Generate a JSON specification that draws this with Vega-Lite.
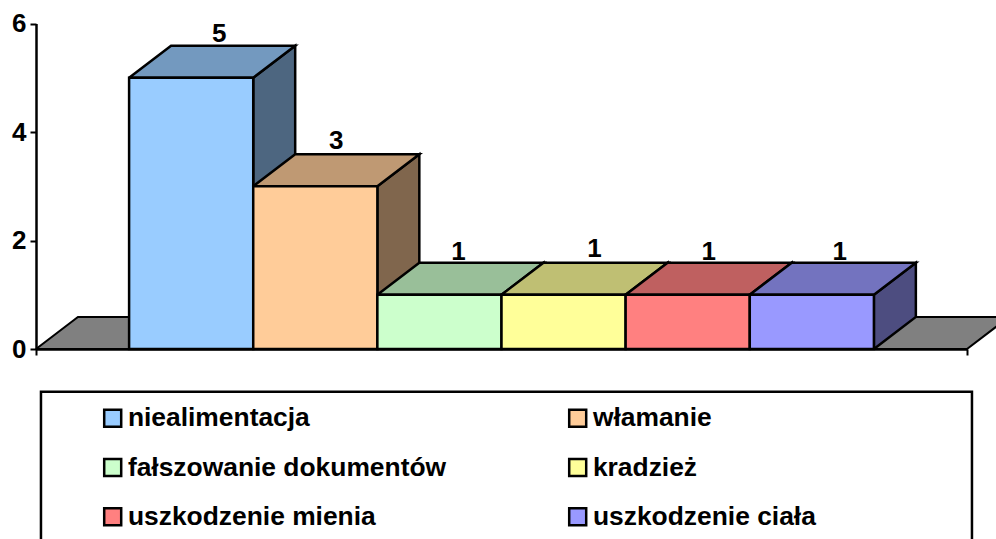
{
"$schema":"https://vega.github.io/schema/vega-lite/v6.json",
"width":996,"height":539,"padding":0,"autosize":{"type":"none"},"background":"white",
"config":{"view":{"stroke":null},"font":"Liberation Sans"},
"data":{"values":[
{"kategoria":"niealimentacja","liczba":5},
{"kategoria":"włamanie","liczba":3},
{"kategoria":"fałszowanie dokumentów","liczba":1},
{"kategoria":"kradzież","liczba":1},
{"kategoria":"uszkodzenie mienia","liczba":1},
{"kategoria":"uszkodzenie ciała","liczba":1}
]},
"transform":[
{"calculate":"indexof(['niealimentacja','włamanie','fałszowanie dokumentów','kradzież','uszkodzenie mienia','uszkodzenie ciała'],datum.kategoria)","as":"i"},
{"calculate":"datum.i+0.75","as":"x0"},
{"calculate":"datum.i+1.75","as":"x1"}
],
"layer":[
{"data":{"values":[{"xs":[0,0.338,7.838,7.5,0],"ys":[0,0.59,0.59,0,0],"k":[0,1,2,3,4]}]},
 "transform":[{"flatten":["xs","ys","k"]}],
 "mark":{"type":"line","filled":true,"fill":"#808080","stroke":"black","strokeWidth":2},
 "encoding":{
  "x":{"field":"xs","type":"quantitative","scale":{"domain":[0,7.5],"range":[36,967],"nice":false,"zero":false},
   "axis":{"title":null,"values":[0,7.5],"labels":false,"grid":false,"offset":-190,"tickSize":6,"tickWidth":2,"tickColor":"black","domainColor":"black","domainWidth":2.5}},
  "y":{"field":"ys","type":"quantitative","scale":{"domain":[0,6],"range":[349,23.5],"nice":false,"zero":false},
   "axis":{"title":null,"values":[0,2,4,6],"format":"d","grid":false,"offset":-36,"tickSize":6,"tickWidth":2,"tickColor":"black","domainColor":"black","domainWidth":2.5,"labelFont":"Liberation Sans","labelFontWeight":"bold","labelFontSize":26,"labelColor":"black","labelPadding":4}},
  "order":{"field":"k","type":"quantitative"}
 }},
{"transform":[
  {"calculate":"[datum.x1,datum.x1+0.338,datum.x1+0.338,datum.x1,datum.x1]","as":"xs"},
  {"calculate":"[0,0.59,datum.liczba+0.59,datum.liczba,0]","as":"ys"},
  {"calculate":"[0,1,2,3,4]","as":"k"},
  {"flatten":["xs","ys","k"]}],
 "mark":{"type":"line","filled":true,"stroke":"black","strokeWidth":2.5},
 "encoding":{
  "x":{"field":"xs","type":"quantitative"},
  "y":{"field":"ys","type":"quantitative"},
  "order":{"field":"k","type":"quantitative"},
  "color":{"field":"kategoria","type":"nominal","legend":null,"scale":{"domain":["niealimentacja","włamanie","fałszowanie dokumentów","kradzież","uszkodzenie mienia","uszkodzenie ciała"],"range":["#4D6680","#80664D","#668066","#80804D","#804040","#4D4D80"]}}
 }},
{"transform":[
  {"calculate":"[datum.x0,datum.x1,datum.x1+0.338,datum.x0+0.338,datum.x0]","as":"xs"},
  {"calculate":"[datum.liczba,datum.liczba,datum.liczba+0.59,datum.liczba+0.59,datum.liczba]","as":"ys"},
  {"calculate":"[0,1,2,3,4]","as":"k"},
  {"flatten":["xs","ys","k"]}],
 "mark":{"type":"line","filled":true,"stroke":"black","strokeWidth":2.5},
 "encoding":{
  "x":{"field":"xs","type":"quantitative"},
  "y":{"field":"ys","type":"quantitative"},
  "order":{"field":"k","type":"quantitative"},
  "color":{"field":"kategoria","type":"nominal","legend":null,"scale":{"domain":["niealimentacja","włamanie","fałszowanie dokumentów","kradzież","uszkodzenie mienia","uszkodzenie ciała"],"range":["#7399BF","#BF9973","#99BF99","#BFBF73","#BF6060","#7373BF"]}}
 }},
{"mark":{"type":"bar","stroke":"black","strokeWidth":2.5,"opacity":1},
 "encoding":{
  "x":{"field":"x0","type":"quantitative"},
  "x2":{"field":"x1"},
  "y":{"field":"liczba","type":"quantitative"},
  "y2":{"datum":0},
  "color":{"field":"kategoria","type":"nominal",
   "scale":{"domain":["niealimentacja","włamanie","fałszowanie dokumentów","kradzież","uszkodzenie mienia","uszkodzenie ciała"],"range":["#99CCFF","#FFCC99","#CCFFCC","#FFFF99","#FF8080","#9999FF"]},
   "legend":{"title":null,"orient":"none","legendX":99.5,"legendY":405,"direction":"horizontal","columns":2,"columnPadding":117,"rowPadding":21.3,"padding":0,"symbolType":"square","symbolSize":289,"symbolStrokeColor":"black","symbolStrokeWidth":2.5,"symbolOpacity":1,"labelFont":"Liberation Sans","labelFontWeight":"bold","labelFontSize":26.4,"labelColor":"black","labelLimit":0,"labelOffset":2}}
 }},
{"transform":[
  {"calculate":"datum.i+1.25+[28,21,19,31,21,28][datum.i]/124.13","as":"lx"},
  {"calculate":"datum.liczba+0.59+[12,13,11,14,11,11][datum.i]/54.17","as":"ly"}],
 "mark":{"type":"text","font":"Liberation Sans","fontWeight":"bold","fontSize":26,"color":"black","baseline":"middle","align":"center"},
 "encoding":{
  "x":{"field":"lx","type":"quantitative"},
  "y":{"field":"ly","type":"quantitative"},
  "text":{"field":"liczba","type":"quantitative","format":"d"}
 }},
{"data":{"values":[{"ramka":"legenda"}]},
 "mark":{"type":"rect","fillOpacity":0,"stroke":"black","strokeWidth":2.5},
 "encoding":{
  "x":{"datum":0.04,"type":"quantitative"},
  "x2":{"datum":7.54},
  "y":{"datum":-0.79,"type":"quantitative"},
  "y2":{"datum":-3.7}
 }}
],
"resolve":{"scale":{"color":"independent"}}
}
